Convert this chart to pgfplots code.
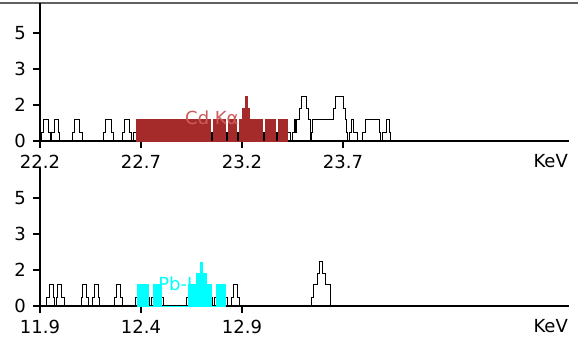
\documentclass[border=0pt]{standalone}
\usepackage{fontspec}
\setmainfont{DejaVu Sans}
\usepackage{pgfplots}
\pgfplotsset{compat=1.18}

\definecolor{cdbrown}{RGB}{165,42,42}
\definecolor{cdlabel}{RGB}{205,92,92}
\definecolor{pbcyan}{RGB}{0,255,255}
\definecolor{framegray}{RGB}{96,96,96}
\newcommand\ff{\fontsize{18bp}{21bp}\selectfont}

\pgfplotsset{
  spec/.style={
    scale only axis, width=529bp, height=138bp,
    ymin=0, ymax=6.39,
    axis x line*=bottom, axis y line*=left,
    axis line style={-, line width=1.6bp},
    every outer x axis line/.append style={-},
    every outer y axis line/.append style={-},
    tick align=outside, major tick length=7bp,
    tick style={line width=1.2bp, black},
    ytick={0,1.6667,3.3333,5}, yticklabels={0,2,3,5},
    ticklabel style={font=\ff, inner sep=0pt},
    yticklabel style={anchor=east, xshift=-7bp},
    xticklabel style={anchor=north, yshift=-7bp},
    xlabel={KeV},
    xlabel style={at={(rel axis cs:1,0)}, anchor=north east, font=\ff,
      inner sep=0pt, yshift=-13bp, xshift=-1bp},
  },
  spectrum/.style={const plot, black, line width=1bp, mark=none},
}

\begin{document}
\begin{tikzpicture}
\path[use as bounding box] (0,0) rectangle (578bp,-340bp);
\draw[line width=2.5bp, framegray] (0,-3bp) -- (578bp,-3bp);

% Cd K-alpha region
\begin{axis}[spec, at={(40bp,-141bp)}, anchor=south west,
  xmin=22.2, xmax=24.819,
  xtick={22.2,22.7,23.2,23.7}, xticklabels={22.2,22.7,23.2,23.7}]
\addplot[spectrum] coordinates {
 (22.200,0)
 (22.208,0.4) (22.216,1) (22.241,0.4) (22.250,0)
 (22.258,0.4) (22.271,1) (22.291,0.4) (22.299,0)
 (22.360,0.4) (22.370,1) (22.398,0.4) (22.409,0)
 (22.513,0.4) (22.522,1) (22.552,0.4) (22.563,0)
 (22.607,0.4) (22.617,1) (22.641,0.4) (22.654,0)
 (22.665,0.4) (22.680,1)
 (23.044,0.4) (23.049,0) (23.054,0.4) (23.059,1)
 (23.118,0.4) (23.123,0) (23.128,0.4) (23.133,1)
 (23.173,0.4) (23.178,0) (23.183,0.4) (23.188,1)
 (23.204,1.5) (23.215,2.05) (23.226,1.5) (23.236,1)
 (23.301,0.4) (23.306,0) (23.311,0.4) (23.316,1)
 (23.366,0.4) (23.371,0) (23.376,0.4) (23.381,1)
 (23.423,0.4) (23.438,0)
 (23.452,0.4) (23.458,1) (23.464,0.4) (23.471,1) (23.487,1.5) (23.496,2.05)
 (23.517,1.5) (23.528,1) (23.537,0.4) (23.541,0) (23.545,0.4) (23.548,1)
 (23.652,1.5) (23.665,2.05) (23.701,1.5) (23.710,1)
 (23.718,0.4) (23.724,0) (23.732,0.4) (23.740,1) (23.754,0.4) (23.771,0)
 (23.798,0.4) (23.809,1) (23.880,0.4) (23.886,0) (23.895,0.4) (23.913,1)
 (23.929,0.4) (23.933,0)
 (24.819,0)
};
\addplot[const plot, draw=cdbrown, fill=cdbrown, line width=1bp, mark=none] coordinates {
 (22.680,1) (23.044,0) (23.059,1) (23.118,0) (23.133,1) (23.173,0) (23.188,1)
 (23.204,1.5) (23.215,2.05) (23.226,1.5) (23.236,1) (23.301,0) (23.316,1)
 (23.366,0) (23.381,1) (23.423,0)
} \closedcycle;
\node[text=cdlabel, font=\ff, inner sep=0pt] at (axis cs:23.051,1.06) {Cd Kα};
\end{axis}

% Pb L-beta region
\begin{axis}[spec, at={(40bp,-306bp)}, anchor=south west,
  xmin=11.9, xmax=14.519,
  xtick={11.9,12.4,12.9}, xticklabels={11.9,12.4,12.9}]
\addplot[spectrum] coordinates {
 (11.900,0)
 (11.933,0.4) (11.945,1) (11.966,0.4) (11.974,0) (11.982,0.4) (11.989,1)
 (12.007,0.4) (12.021,0)
 (12.103,0.4) (12.111,1) (12.131,0.4) (12.139,0)
 (12.159,0.4) (12.169,1) (12.189,0.4) (12.197,0)
 (12.268,0.4) (12.280,1) (12.300,0.4) (12.307,0)
 (12.375,0.4) (12.384,1)
 (12.436,0.4) (12.442,0) (12.450,0.4) (12.461,1)
 (12.502,0.4) (12.509,0)
 (12.626,0.4) (12.634,1) (12.677,1.5) (12.695,2.0) (12.704,1.5) (12.722,1)
 (12.750,0.4) (12.756,0) (12.764,0.4) (12.774,1)
 (12.818,0.4) (12.826,0)
 (12.848,0.4) (12.857,1) (12.878,0.4) (12.888,0)
 (13.243,0.4) (13.253,1) (13.274,1.5) (13.284,2.05) (13.300,1.5) (13.313,1)
 (13.338,0)
 (14.519,0)
};
\addplot[const plot, draw=pbcyan, fill=pbcyan, line width=1bp, mark=none] coordinates {
 (12.384,1) (12.436,0) (12.461,1) (12.502,0) (12.634,1) (12.677,1.5)
 (12.695,2.0) (12.704,1.5) (12.722,1) (12.750,0) (12.774,1) (12.818,0)
} \closedcycle;
\node[text=pbcyan, font=\ff, inner sep=0pt] at (axis cs:12.61,0.93) {Pb-Lβ};
\end{axis}
\end{tikzpicture}
\end{document}
